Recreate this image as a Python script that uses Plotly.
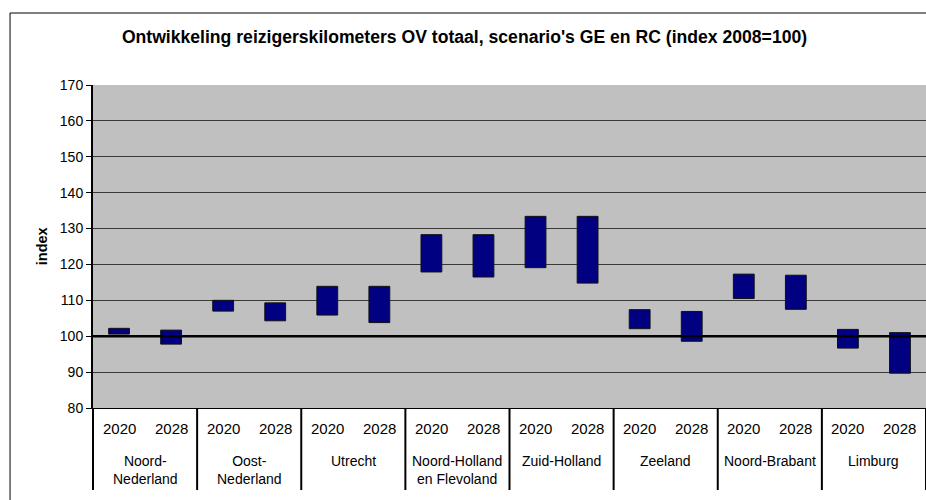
import plotly.graph_objects as go

# ---- data ----
regions = ["Noord-<br>Nederland", "Oost-<br>Nederland", "Utrecht", "Noord-Holland<br>en Flevoland",
           "Zuid-Holland", "Zeeland", "Noord-Brabant", "Limburg"]
years = ["2020", "2028"]
# low / high ends of each floating bar (per region: 2020, 2028)
low_2020 = [100.6, 107.0, 105.9, 117.9, 119.1, 102.1, 110.5, 96.7]
high_2020 = [102.2, 110.0, 113.9, 128.3, 133.4, 107.4, 117.3, 101.9]
low_2028 = [97.8, 104.3, 103.8, 116.5, 114.8, 98.6, 107.5, 89.7]
high_2028 = [101.7, 109.3, 113.9, 128.3, 133.4, 106.9, 117.0, 101.0]
baseline = 100
y_ticks = [80, 90, 100, 110, 120, 130, 140, 150, 160, 170]

title_text = "Ontwikkeling reizigerskilometers OV totaal, scenario's GE en RC (index 2008=100)"
y_title = "index"

# ---- build ----
xs, bases, heights, labels = [], [], [], []
for g in range(len(regions)):
    for j, (lo, hi) in enumerate([(low_2020[g], high_2020[g]), (low_2028[g], high_2028[g])]):
        xs.append(2 * g + j)
        bases.append(lo)
        heights.append(hi - lo)
        labels.append(years[j])

n = len(xs)
FONT = "Liberation Sans, Arial, sans-serif"

fig = go.Figure(go.Bar(
    x=xs, y=heights, base=bases, width=0.4,
    marker=dict(color="#000080", line=dict(color="#111111", width=1)),
    hoverinfo="skip",
))

shapes = []
# reference line at index 100
shapes.append(dict(type="line", xref="paper", yref="y", x0=0, x1=1, y0=baseline, y1=baseline,
                   line=dict(color="black", width=2.5), layer="above"))
# group dividers below the axis
for g in range(len(regions) + 1):
    xp = 2 * g / n
    if xp > 1:
        continue
    shapes.append(dict(type="line", xref="paper", yref="paper", x0=xp, x1=xp, y0=0, y1=-0.254,
                       line=dict(color="black", width=2)))
# chart frame
shapes.append(dict(type="rect", xref="paper", yref="paper", x0=-0.0996, x1=1.2, y0=-1, y1=1.2229,
                   line=dict(color="black", width=1), fillcolor="rgba(0,0,0,0)", layer="below"))

annotations = []
for x, lab in zip(xs, labels):
    annotations.append(dict(x=x, xref="x", y=0, yref="paper", yanchor="middle", yshift=-20.5,
                            text=lab, showarrow=False, font=dict(family=FONT, size=15, color="black")))
for g, reg in enumerate(regions):
    annotations.append(dict(x=2 * g + 0.5, xref="x", y=0, yref="paper", yanchor="top", yshift=-43,
                            text=reg, showarrow=False, font=dict(family=FONT, size=14, color="black")))
annotations.append(dict(x=-0.0616, xref="paper", xanchor="center", y=0.5, yref="paper", yanchor="middle",
                        text="<b>%s</b>" % y_title, textangle=-90, showarrow=False,
                        font=dict(family=FONT, size=14.5, color="black")))

fig.update_layout(
    width=926, height=500,
    margin=dict(l=93, r=0, t=85, b=92),
    paper_bgcolor="white", plot_bgcolor="#C0C0C0",
    showlegend=False,
    title=dict(text="<b>%s</b>" % title_text, x=464.5 / 926, xref="container", xanchor="center",
               y=1 - 37 / 500, yref="container", yanchor="middle",
               font=dict(family=FONT, size=17.6, color="black")),
    xaxis=dict(range=[-0.5, n - 0.5], showgrid=False, showticklabels=False, ticks="",
               showline=True, linecolor="black", linewidth=1, zeroline=False, fixedrange=True),
    yaxis=dict(range=[y_ticks[0], y_ticks[-1]], tickvals=y_ticks, ticks="outside", ticklen=5,
               tickcolor="black", tickwidth=1, showline=True, linecolor="black", linewidth=2,
               showgrid=True, gridcolor="#3a3a3a", gridwidth=1, zeroline=False,
               tickfont=dict(family=FONT, size=14, color="black"), fixedrange=True),
    shapes=shapes, annotations=annotations,
    bargap=0,
)

fig.write_html("out.html", config={"displayModeBar": False, "staticPlot": True},
               post_script="document.body.style.margin='0';document.body.style.overflow='hidden';")
